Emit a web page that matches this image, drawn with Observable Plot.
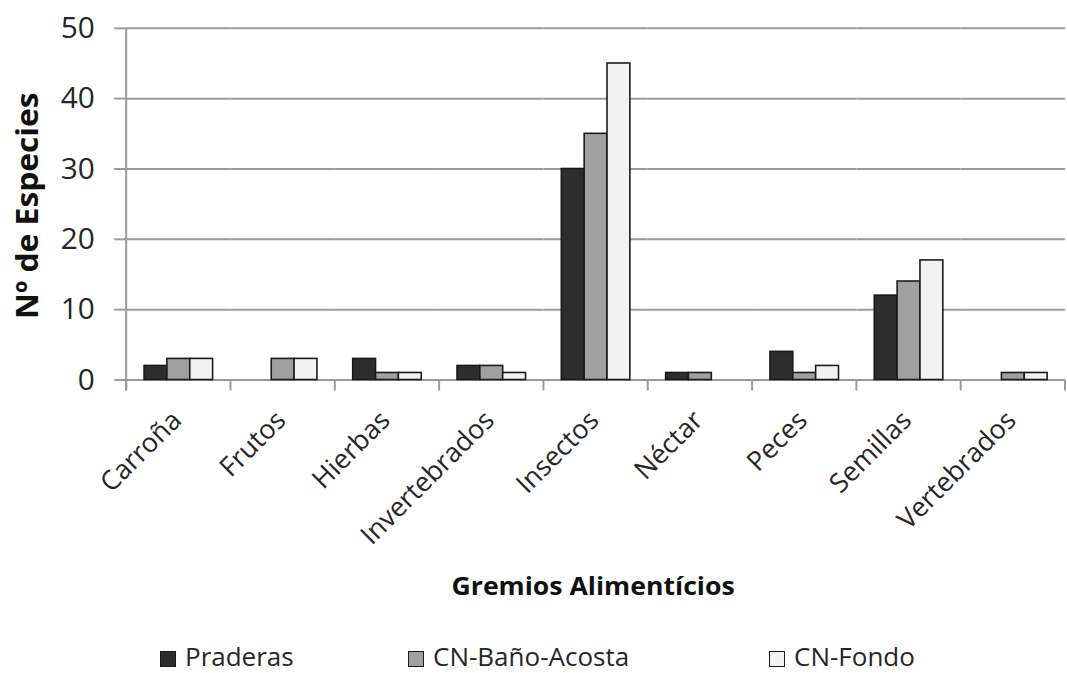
<!DOCTYPE html>
<html>
<head>
<meta charset="utf-8">
<script src="https://cdn.jsdelivr.net/npm/d3@7"></script>
<script src="https://cdn.jsdelivr.net/npm/@observablehq/plot@0.6"></script>
<style>
  html, body { margin: 0; padding: 0; background: #fff; overflow: hidden; }
  #chart { position: relative; width: 1067px; height: 673px; overflow: hidden; }
  #legend { position: absolute; left: 0; top: 643px; width: 1067px; height: 26px;
    font-family: "Open Sans", sans-serif; font-size: 26px; line-height: 26px; color: #262626; }
  .item { position: absolute; top: 0; height: 26px; white-space: nowrap; }
  .sw { position: absolute; left: 0; top: 8px; width: 16px; height: 16px; border: 1.5px solid #1a1a1a; box-sizing: border-box; }
  .lbl { position: absolute; left: 25px; top: 0; }
</style>
</head>
<body>
<div id="chart"></div>
<script>
const categories = ["Carroña", "Frutos", "Hierbas", "Invertebrados", "Insectos", "Néctar", "Peces", "Semillas", "Vertebrados"];
const series = ["Praderas", "CN-Baño-Acosta", "CN-Fondo"];
const praderas = [2, 0, 3, 2, 30, 1, 4, 12, 0];
const banoAcosta = [3, 3, 1, 2, 35, 1, 1, 14, 1];
const fondo = [3, 3, 1, 1, 45, 0, 2, 17, 1];
const yTicks = [0, 10, 20, 30, 40, 50];
const colors = ["#2d2d2d", "#a0a0a0", "#f2f2f2"];
const legendLeft = [160, 408, 769];
const yTitle = "Nº de Especies";
const xTitle = "Gremios Alimentícios";

const seriesValues = [praderas, banoAcosta, fondo];
const data = [];
categories.forEach((c, i) => series.forEach((s, j) => data.push({cat: c, series: s, value: seriesValues[j][i]})));

const gray = "#9a9a9a";
const W = 1074, H = 636;
const chart = Plot.plot({
  width: W,
  height: H,
  marginTop: 28,
  marginBottom: 254,
  marginLeft: 126,
  marginRight: 1,
  style: {fontFamily: "Open Sans, sans-serif", color: "#262626", background: "white"},
  fx: {domain: categories, padding: 0, label: null},
  x: {domain: series, paddingInner: 0, paddingOuter: 0.75, axis: null},
  y: {domain: [0, 50], label: null},
  color: {domain: series, range: colors},
  marks: [
    Plot.gridY(yTicks, {stroke: gray, strokeOpacity: 1, strokeWidth: 2}),
    Plot.ruleY([0], {stroke: gray, strokeWidth: 2}),
    Plot.barY(data, {fx: "cat", x: "series", y: "value", fill: "series", stroke: "#1a1a1a", strokeWidth: 1.6, filter: d => d.value > 0}),
    Plot.axisY(yTicks, {tickSize: 12, tickPadding: 20, fontSize: 30, stroke: gray, strokeWidth: 2, label: null, fill: "#262626"}),
    Plot.axisFx({anchor: "bottom", tickSize: 0, tickRotate: -45, tickPadding: 36, dx: -2, fontSize: 27, label: null, fill: "#262626"})
  ]
});
document.getElementById("chart").appendChild(chart);

// vertical axis line, category boundary ticks and titles, placed with Plot's own scales
const fx = chart.scale("fx");
const ys = chart.scale("y");
const svg = d3.select(chart);
const y0 = ys.apply(0), y50 = ys.apply(50);
const x0 = fx.apply(categories[0]);
const xEnd = fx.apply(categories[categories.length - 1]) + fx.bandwidth;
const g = svg.append("g").attr("stroke", gray).attr("stroke-width", 2);
g.append("line").attr("x1", x0).attr("x2", x0).attr("y1", y50).attr("y2", y0 + 11);
categories.forEach(c => {
  const x = fx.apply(c);
  g.append("line").attr("x1", x).attr("x2", x).attr("y1", y0).attr("y2", y0 + 11);
});
g.append("line").attr("x1", xEnd).attr("x2", xEnd).attr("y1", y0).attr("y2", y0 + 11);

svg.append("text")
  .attr("transform", `translate(${x0 - 100},${(y0 + y50) / 2 + 2}) rotate(-90)`)
  .attr("text-anchor", "middle").attr("dy", "0.35em")
  .attr("font-family", "Open Sans, sans-serif").attr("font-size", 31).attr("font-weight", "bold").attr("fill", "#111")
  .attr("textLength", 228).attr("lengthAdjust", "spacingAndGlyphs")
  .text(yTitle);
svg.append("text")
  .attr("x", 597).attr("y", y0 + 208)
  .attr("text-anchor", "middle").attr("dy", "0.35em")
  .attr("font-family", "Open Sans, sans-serif").attr("font-size", 26).attr("font-weight", "bold").attr("fill", "#111")
  .attr("textLength", 285).attr("lengthAdjust", "spacingAndGlyphs")
  .text(xTitle);

// legend
const legend = d3.select("#chart").append("div").attr("id", "legend");
series.forEach((s, i) => {
  const it = legend.append("div").attr("class", "item").style("left", legendLeft[i] + "px");
  it.append("div").attr("class", "sw").style("background", colors[i]);
  it.append("span").attr("class", "lbl").text(s);
});
</script>
</body>
</html>
